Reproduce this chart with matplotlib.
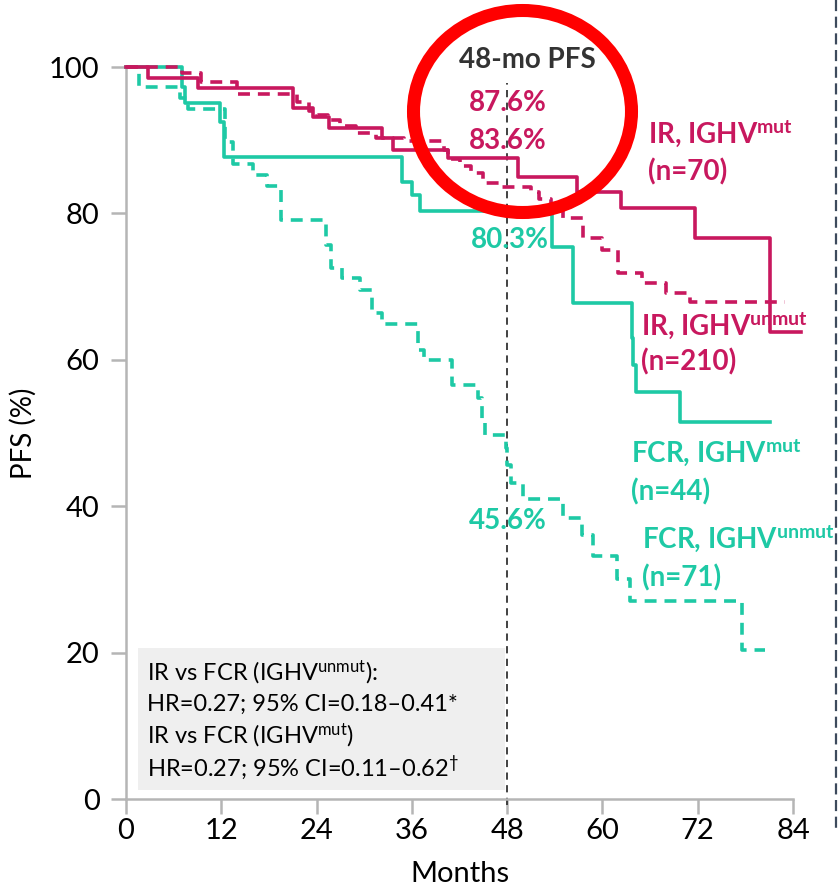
import matplotlib
matplotlib.use("Agg")
import matplotlib.pyplot as plt
from matplotlib.patches import Ellipse, Rectangle
from matplotlib.lines import Line2D

plt.rcParams['font.family'] = ['Lato', 'DejaVu Sans']
plt.rcParams['mathtext.fontset'] = 'custom'
plt.rcParams['mathtext.rm'] = 'Lato'
plt.rcParams['mathtext.it'] = 'Lato:italic'
plt.rcParams['mathtext.bf'] = 'Lato:bold'

# ---------------- data ----------------
ir_mut_t = [0, 2.8, 9.1, 21.0, 23.5, 25.6, 32.2, 33.6, 40.6, 49.4, 56.8, 62.4, 71.7, 81.1, 85.0]
ir_mut_s = [100, 98.5, 97.1, 94.4, 93.2, 91.6, 90.3, 88.7, 87.6, 85.0, 82.9, 80.7, 76.7, 63.8, 63.8]

ir_unmut_t = [0, 7.0, 9.5, 14.0, 21.5, 23.0, 24.0, 25.5, 27.0, 29.0, 31.5, 35.0, 40.0, 40.5, 42.0,
              43.5, 45.0, 47.0, 51.0, 52.0, 53.5, 55.0, 57.5, 60.0, 62.0, 65.0, 68.0, 71.0, 83.0]
ir_unmut_s = [100, 99.2, 98.0, 96.3, 95.2, 94.0, 93.5, 92.8, 92.0, 91.0, 90.3, 89.9, 88.6, 87.4, 86.5,
              85.5, 84.2, 83.6, 82.9, 82.0, 80.8, 79.4, 76.6, 75.0, 71.9, 70.5, 69.1, 67.9, 67.9]

fcr_mut_t = [0, 7.0, 7.4, 11.8, 12.4, 34.7, 36.0, 37.0, 53.6, 56.3, 63.7, 63.9, 64.2, 69.8, 81.1]
fcr_mut_s = [100, 97.3, 95.1, 92.5, 87.7, 84.3, 82.5, 80.3, 75.4, 67.8, 63.0, 59.3, 55.6, 51.5, 51.5]

fcr_unmut_t = [0, 1.6, 6.8, 7.8, 12.5, 13.5, 16.0, 17.8, 19.5, 25.2, 25.8, 27.2, 29.5, 31.0, 32.3,
               36.8, 37.5, 41.1, 44.3, 44.8, 45.2, 47.8, 48.0, 48.5, 50.0, 55.0, 57.4, 58.8, 61.8,
               63.5, 77.6, 80.5]
fcr_unmut_s = [100, 97.3, 95.8, 94.3, 89.8, 86.8, 85.2, 83.7, 79.1, 75.7, 72.5, 71.2, 69.5, 66.4, 64.9,
               61.3, 60.0, 56.6, 54.8, 51.4, 49.7, 48.0, 45.6, 43.2, 41.0, 38.4, 36.1, 33.2, 30.0,
               27.0, 20.3, 20.3]

x_ticks = [0, 12, 24, 36, 48, 60, 72, 84]
y_ticks = [0, 20, 40, 60, 80, 100]
landmark_month = 48
pfs48_labels = ["87.6%", "83.6%", "80.3%", "45.6%"]

MAG = "#C8185E"
TEAL = "#1EC9A5"
GRAY = "#b5b5b5"

W, H = 838, 888
fig = plt.figure(figsize=(W / 100, H / 100), dpi=100)
ax = fig.add_axes([126 / W, 1 - 799 / H, (793 - 126) / W, (799 - 67) / H])


def fx(px):
    return px / W


def fy(py):
    return 1 - py / H


lw = 2.6
dash = (0, (3.3, 2.2))
ax.step(fcr_unmut_t, fcr_unmut_s, where='post', color=TEAL, lw=lw, linestyle=dash, clip_on=False, zorder=3)
ax.step(fcr_mut_t, fcr_mut_s, where='post', color=TEAL, lw=lw, clip_on=False, zorder=3)
ax.step(ir_unmut_t, ir_unmut_s, where='post', color=MAG, lw=lw, linestyle=dash, clip_on=False, zorder=4)
ax.step(ir_mut_t, ir_mut_s, where='post', color=MAG, lw=lw, clip_on=False, zorder=4)

# 48-month landmark line
ax.plot([landmark_month, landmark_month], [-0.8, 97.8], color="#333333", lw=1.3,
        linestyle=(0, (4, 3)), clip_on=False, zorder=2)

ax.set_xlim(0, 84)
ax.set_ylim(0, 100)
ax.set_xticks(x_ticks)
ax.set_yticks(y_ticks)
for s in ['top', 'right']:
    ax.spines[s].set_visible(False)
for s in ['left', 'bottom']:
    ax.spines[s].set_color(GRAY)
    ax.spines[s].set_linewidth(1.8)
ax.tick_params(axis='both', direction='out', length=11, width=1.8, color=GRAY,
               labelsize=21, labelcolor='black')
ax.tick_params(axis='y', pad=8)
ax.tick_params(axis='x', pad=3)
ax.set_ylabel("PFS (%)", fontsize=20, labelpad=9)
ax.set_xlabel("Months", fontsize=21, labelpad=12)

# curve labels
bold = dict(fontsize=20, fontweight='bold', va='center', ha='left')
fig.text(fx(648), fy(133), r"IR, IGHV$^{\mathbf{mut}}$", color=MAG, **bold)
fig.text(fx(648), fy(172), "(n=70)", color=MAG, **bold)
fig.text(fx(641), fy(325), r"IR, IGHV$^{\mathbf{unmut}}$", color=MAG, **bold)
fig.text(fx(641), fy(362), "(n=210)", color=MAG, **bold)
fig.text(fx(631), fy(452), r"FCR, IGHV$^{\mathbf{mut}}$", color=TEAL, **bold)
fig.text(fx(631), fy(492), "(n=44)", color=TEAL, **bold)
fig.text(fx(642), fy(538), r"FCR, IGHV$^{\mathbf{unmut}}$", color=TEAL, **bold)
fig.text(fx(642), fy(578), "(n=71)", color=TEAL, **bold)

cbold = dict(fontsize=20, fontweight='bold', va='center', ha='center')
fig.text(fx(527), fy(60), "48-mo PFS", color="#333333", **cbold)
fig.text(fx(508), fy(103), pfs48_labels[0], color=MAG, **cbold)
fig.text(fx(508), fy(141), pfs48_labels[1], color=MAG, **cbold)
fig.text(fx(510), fy(240), pfs48_labels[2], color=TEAL, **cbold)
fig.text(fx(508), fy(521), pfs48_labels[3], color=TEAL, **cbold)

# stats box
fig.add_artist(Rectangle((fx(138), fy(790)), (505 - 138) / W, (790 - 648) / H,
                         transform=fig.transFigure, facecolor="#efefef", edgecolor='none', zorder=1))
box_lines = [r"IR vs FCR (IGHV$^{\mathrm{unmut}}$):",
             "HR=0.27; 95% CI=0.18\u20130.41*",
             r"IR vs FCR (IGHV$^{\mathrm{mut}}$)",
             "HR=0.27; 95% CI=0.11\u20130.62" + r"$^{\dagger}$"]
for i, t in enumerate(box_lines):
    fig.text(fx(147), fy(673 + 31.5 * i), t, fontsize=17, va='center', ha='left', color='black', zorder=5)

# red circle
fig.add_artist(Ellipse((fx(522.5), fy(111.5)), 218 / W, 202 / H, transform=fig.transFigure,
                       fill=False, edgecolor="#FF0000", lw=9.4, zorder=10))

# right-edge dashed divider
fig.add_artist(Line2D([fx(836), fx(836)], [fy(0), fy(830)], transform=fig.transFigure,
                      color="#3d4a5c", lw=1.6, linestyle=(0, (5, 2.5))))

fig.savefig("out.png", dpi=100)
